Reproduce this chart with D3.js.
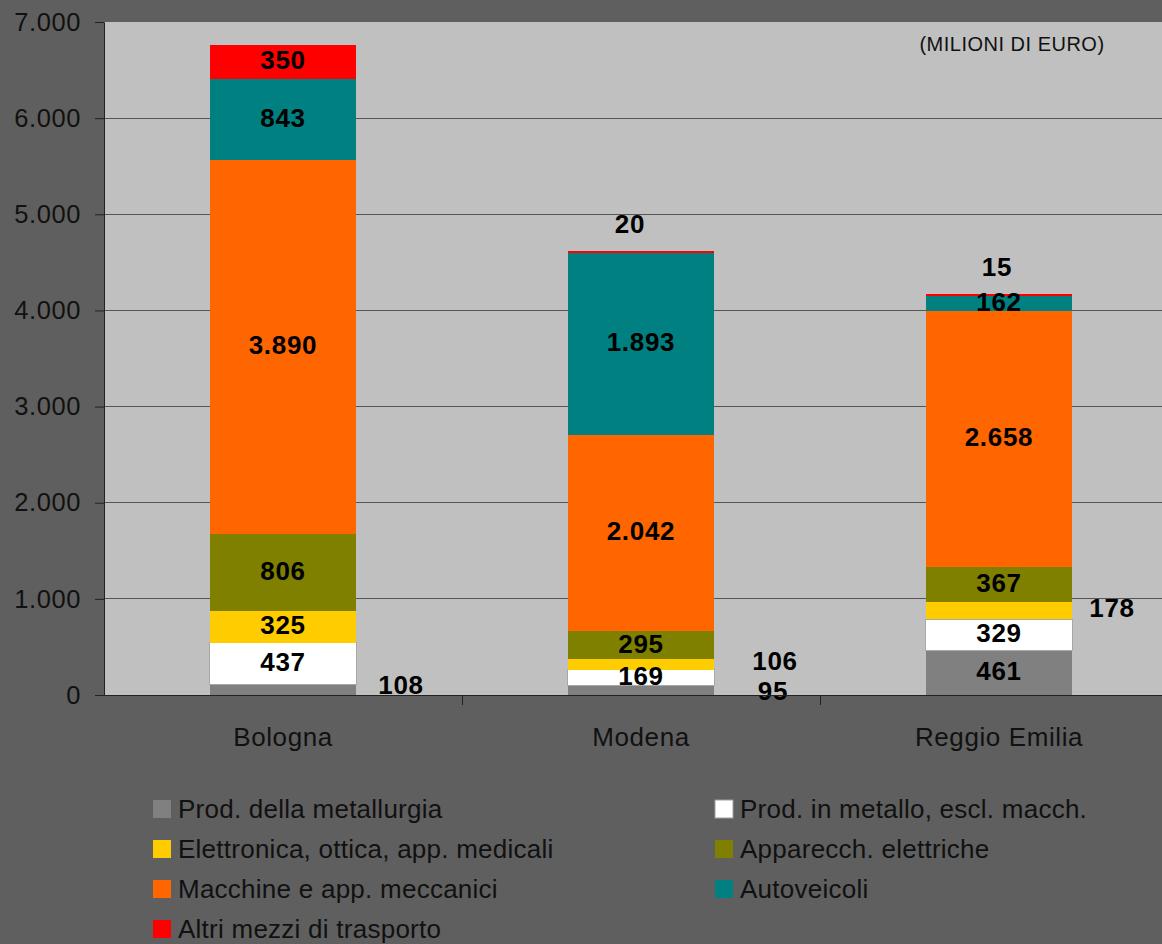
<!DOCTYPE html>
<html><head><meta charset="utf-8">
<script src="https://cdn.jsdelivr.net/npm/d3@7"></script>
<style>body{margin:0;background:#5f5f5f;}svg{display:block;font-family:"Liberation Sans",Arial,sans-serif;}</style>
</head><body>
<svg id="c" width="1162" height="944"></svg>
<script>
const categories = ["Bologna", "Modena", "Reggio Emilia"];
const seriesNames = ["Prod. della metallurgia", "Prod. in metallo, escl. macch.", "Elettronica, ottica, app. medicali", "Apparecch. elettriche", "Macchine e app. meccanici", "Autoveicoli", "Altri mezzi di trasporto"];
const metallurgia = [108, 95, 461];
const metallo = [437, 169, 329];
const elettronica = [325, 106, 178];
const elettriche = [806, 295, 367];
const macchine = [3890, 2042, 2658];
const autoveicoli = [843, 1893, 162];
const altri = [350, 20, 15];
const yTicks = [0, 1000, 2000, 3000, 4000, 5000, 6000, 7000];
const colors = ["#808080", "#ffffff", "#ffcc00", "#808000", "#ff6600", "#008080", "#ff0000"];
const unitLabel = "(MILIONI DI EURO)";

// label placement for small segments (outside the bar): [category index, series index, dx, dy]
const outsideLabels = [
  [0, 0, 118, -5],
  [1, 0, 132, 0],
  [1, 2, 134, -4],
  [2, 2, 113, -3],
  [1, 6, -11, -27],
  [2, 6, -2, -27]
];

const series = [metallurgia, metallo, elettronica, elettriche, macchine, autoveicoli, altri];
const fmt = v => d3.format(",")(v).replace(/,/g, ".");

const svg = d3.select("#c");
const pLeft = 104, pTop = 22, pBottom = 695, pRight = 1178;

const y = d3.scaleLinear().domain([0, 7000]).range([pBottom, pTop]);
const x = d3.scaleBand().domain(categories).range([pLeft, pRight]).paddingInner(0.592).paddingOuter(0.296);

// plot area
svg.append("rect").attr("x", pLeft).attr("y", pTop).attr("width", pRight - pLeft).attr("height", pBottom - pTop).attr("fill", "#c0c0c0");

// gridlines
svg.append("g").selectAll("line").data(yTicks.filter(t => t > 0 && t < 7000)).join("line")
  .attr("x1", pLeft).attr("x2", pRight).attr("y1", d => y(d)).attr("y2", d => y(d))
  .attr("stroke", "#555").attr("stroke-width", 1).attr("shape-rendering", "crispEdges");

// stacks
const rows = categories.map((c, i) => {
  const o = { cat: c };
  series.forEach((s, j) => o["s" + j] = s[i]);
  return o;
});
const keys = series.map((s, j) => "s" + j);
const stacked = d3.stack().keys(keys)(rows);

const gBars = svg.append("g");
stacked.forEach((layer, j) => {
  gBars.append("g").selectAll("rect").data(layer).join("rect")
    .attr("x", d => x(d.data.cat))
    .attr("width", x.bandwidth())
    .attr("y", d => y(d[1]))
    .attr("height", d => y(d[0]) - y(d[1]))
    .attr("fill", colors[j])
    .attr("stroke", j === 1 ? "#a8a8a8" : "none")
    .attr("stroke-width", 1)
    .attr("shape-rendering", "crispEdges");
});

// labels
const gLab = svg.append("g");
stacked.forEach((layer, j) => {
  layer.forEach((d, i) => {
    const out = outsideLabels.find(o => o[0] === i && o[1] === j);
    let cx = x(d.data.cat) + x.bandwidth() / 2;
    let cy = (y(d[0]) + y(d[1])) / 2 - 2;
    if (out) {
      if (j === 6) { cx += out[2]; cy = y(d[1]) + out[3]; }
      else { cx += out[2]; cy += out[3] + 2; }
    }
    gLab.append("text").attr("x", cx).attr("y", cy).attr("dy", "0.36em")
      .attr("text-anchor", "middle").attr("font-weight", "bold").attr("font-size", 26)
      .attr("letter-spacing", 0.7)
      .attr("fill", "#000").text(fmt(series[j][i]));
  });
});

// axes
const yAxis = svg.append("g").attr("transform", `translate(${pLeft},0)`)
  .call(d3.axisLeft(y).tickValues(yTicks).tickSize(9).tickPadding(14).tickFormat(fmt));
yAxis.select(".domain").attr("stroke", "#222").attr("stroke-width", 1);
yAxis.selectAll(".tick line").attr("stroke", "#222");
yAxis.selectAll("text").attr("font-size", 25.5).attr("letter-spacing", 0.6).attr("fill", "#111").attr("font-family", "Liberation Sans, Arial, sans-serif");

const xAxis = svg.append("g").attr("transform", `translate(0,${pBottom})`)
  .call(d3.axisBottom(x).tickSize(0).tickPadding(33));
xAxis.select(".domain").attr("stroke", "#222");
xAxis.selectAll("text").attr("font-size", 26).attr("letter-spacing", 0.6).attr("fill", "#111").attr("font-family", "Liberation Sans, Arial, sans-serif");
// category separators
const bounds = categories.map((c, i) => x(c) - x.step() * x.paddingOuter());
svg.append("g").selectAll("line").data(bounds.slice(1)).join("line")
  .attr("x1", d => d).attr("x2", d => d).attr("y1", pBottom).attr("y2", pBottom + 10)
  .attr("stroke", "#222").attr("shape-rendering", "crispEdges");

// unit label
svg.append("text").attr("x", 1012).attr("y", 51).attr("text-anchor", "middle")
  .attr("font-size", 20).attr("letter-spacing", 0.5).attr("fill", "#111").text(unitLabel);

// legend
const lg = svg.append("g");
seriesNames.forEach((n, j) => {
  const col = j % 2, row = Math.floor(j / 2);
  const lx = col === 0 ? 153 : 715, ly = 809 + row * 40;
  lg.append("rect").attr("x", lx).attr("y", ly - 9).attr("width", 18).attr("height", 18)
    .attr("fill", colors[j]).attr("stroke", j === 1 ? "#a0a0a0" : "none");
  lg.append("text").attr("x", lx + 25).attr("y", ly).attr("dy", "0.36em")
    .attr("font-size", 26).attr("letter-spacing", 0.25).attr("fill", "#111").text(n);
});
</script>
</body></html>
